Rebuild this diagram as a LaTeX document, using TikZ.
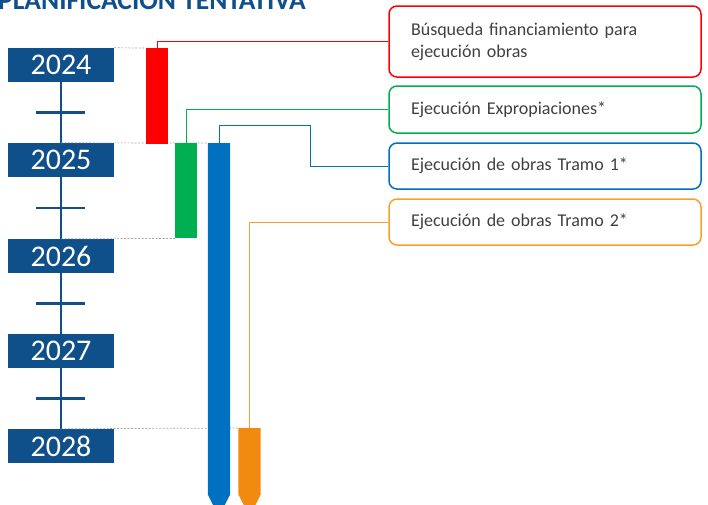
\documentclass[tikz,border=0pt]{standalone}
\usepackage{fontspec}
\setmainfont{Carlito}
\usepackage{tikz}
\usetikzlibrary{positioning}
\definecolor{navycol}{HTML}{0F4F8A}
\definecolor{redcol}{HTML}{FF0000}
\definecolor{greencol}{HTML}{00B050}
\definecolor{bluecol}{HTML}{0070C0}
\definecolor{orangecol}{HTML}{F18A0F}
\definecolor{orangeline}{HTML}{F6A030}
\definecolor{txtcol}{HTML}{404040}
\definecolor{dotcol}{HTML}{A6A6A6}

\tikzset{
  yearbox/.style={fill=navycol, text=white, minimum width=106pt, minimum height=34pt,
    inner sep=0pt, font=\fontsize{30}{31}\selectfont},
  bar/.style={minimum width=22pt, inner sep=0pt, anchor=north},
  taskbox/.style={draw=#1, line width=1.5pt, rounded corners=8pt, fill=white,
    minimum width=312pt, text width=268pt, align=left, inner sep=0pt,
    text=txtcol, font=\fontsize{18}{22}\selectfont},
  link/.style={draw=#1, line width=1pt},
  guide/.style={draw=dotcol, dashed, dash pattern=on 2pt off 1.5pt, line width=0.7pt},
  tick/.style={draw=navycol, line width=2.5pt}
}

\begin{document}
\begin{tikzpicture}[x=1pt, y=-1pt]
  \useasboundingbox (0,0) rectangle (708,504);
  \clip (0,0) rectangle (708,504);

  \node[anchor=base west, inner sep=0pt, text=navycol,
        font=\bfseries\fontsize{27.5}{28}\selectfont] (title) at (-2,9) {PLANIFICACIÓN TENTATIVA};

  \node[yearbox] (y2024) at (61,65) {2024};
  \node[yearbox] (y2025) at (61,160) {2025};
  \node[yearbox] (y2026) at (61,256) {2026};
  \node[yearbox] (y2027) at (61,351) {2027};
  \node[yearbox] (y2028) at (61,446) {2028};

  \draw[tick] (y2024.south) -- (y2028.north);
  \foreach \ya/\yb in {y2024/y2025, y2025/y2026, y2026/y2027, y2027/y2028} {
    \path (\ya.south) -- (\yb.north) coordinate[midway] (m\ya);
    \draw[tick] ([xshift=-25pt]m\ya) -- ([xshift=24pt]m\ya);
  }

  \node[bar, fill=redcol, minimum height=96pt] (rbar) at (157,48) {};
  \node[bar, fill=greencol, minimum height=95pt] (gbar) at (186,143) {};
  \node[bar, minimum height=351pt] (bbar) at (219,143) {};
  \node[bar, minimum height=66pt] (obar) at (249.5,428) {};

  \draw[guide] (y2024.north east) -- (rbar.north west);
  \draw[guide] (y2025.north) -- (bbar.north west);
  \draw[guide] (y2026.north) -- (gbar.south west);
  \draw[guide] (y2028.north) -- (obar.north west);

  \fill[redcol] (rbar.north west) rectangle (rbar.south east);
  \fill[greencol] (gbar.north west) rectangle (gbar.south east);
  \fill[bluecol] (bbar.north west) -- (bbar.south west) -- ++(11,22) -- (bbar.south east)
    -- (bbar.north east) -- cycle;
  \fill[orangecol] (obar.north west) -- (obar.south west) -- ++(11.5,22) -- (obar.south east)
    -- (obar.north east) -- cycle;

  \node[taskbox=redcol, minimum height=71pt] (rbox) at (545,41.5)
    {Búsqueda financiamiento para\\ejecución obras};
  \node[taskbox=greencol, minimum height=47pt] (gbox) at (545,109.5)
    {Ejecución Expropiaciones*};
  \node[taskbox=bluecol, minimum height=46pt] (bbox) at (545,166)
    {Ejecución de obras Tramo 1*};
  \node[taskbox=orangeline, minimum height=46pt] (obox) at (545,222)
    {Ejecución de obras Tramo 2*};

  \coordinate (bbend) at (310,125);
  \draw[link=redcol] (rbar.north) |- (rbox.west);
  \draw[link=greencol] (gbar.north) |- (gbox.west);
  \draw[link=bluecol] (bbar.north) |- (bbend) |- (bbox.west);
  \draw[link=orangeline] (obar.north) |- (obox.west);
\end{tikzpicture}
\end{document}
